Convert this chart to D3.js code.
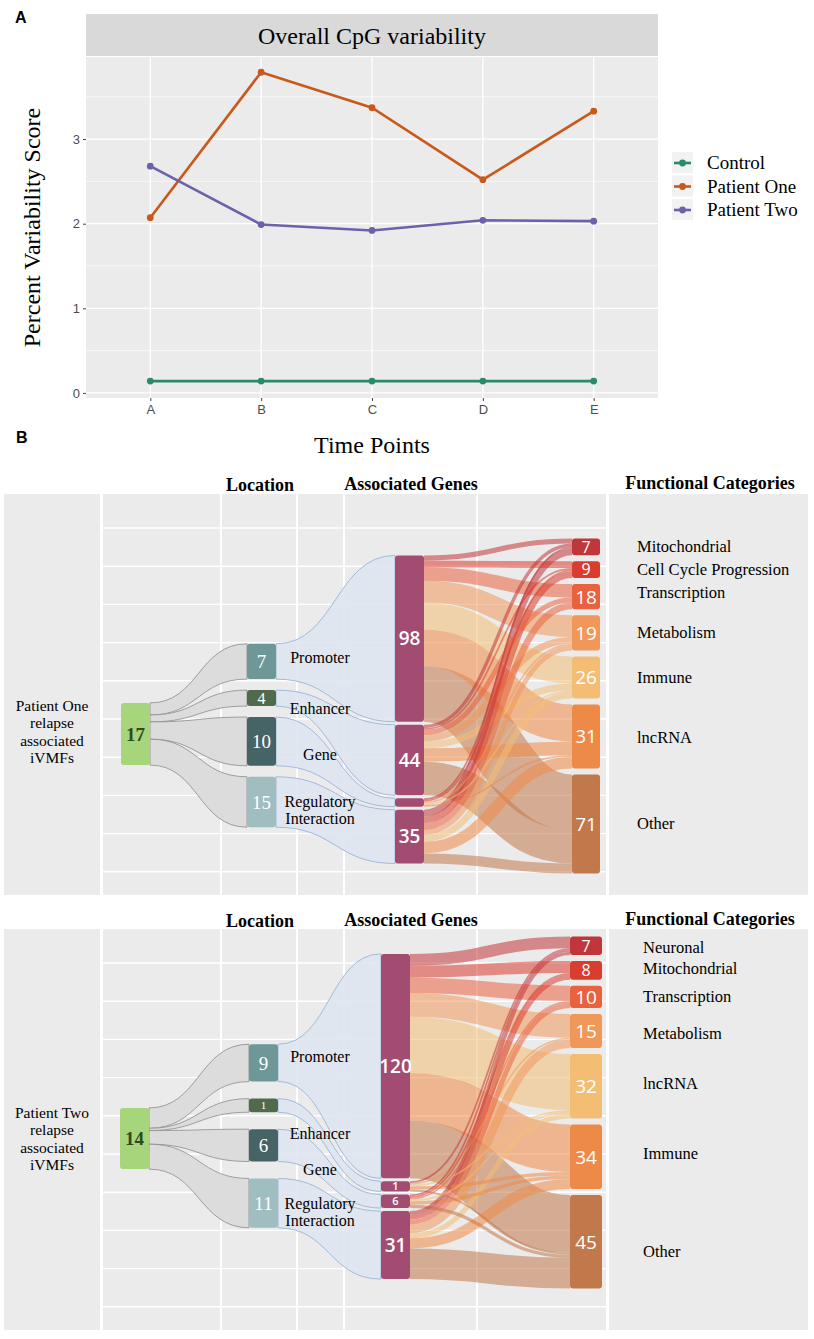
<!DOCTYPE html>
<html>
<head>
<meta charset="utf-8">
<script src="https://cdn.jsdelivr.net/npm/d3@7"></script>
<style>
  body { margin: 0; background: #fff; }
  svg { display: block; }
</style>
</head>
<body>
<svg id="fig" width="814" height="1339"></svg>
<script>
// ---------- panel A data ----------
var timePoints = ["A", "B", "C", "D", "E"];
var seriesNames = ["Control", "Patient One", "Patient Two"];
var controlScores = [0.14, 0.14, 0.14, 0.14, 0.14];
var patientOneScores = [2.07, 3.79, 3.37, 2.52, 3.33];
var patientTwoScores = [2.68, 1.99, 1.92, 2.04, 2.03];
var yTicks = [0, 1, 2, 3];

// ---------- panel B data ----------
var locationNames = ["Promoter", "Enhancer", "Gene", "Regulatory Interaction"];

// patient one
var p1Source = "17";
var p1SourceFlow = 37;
var p1LocCounts = [7, 4, 10, 15];
var p1LocFlow = [21, 9.5, 29, 30];
var p1GeneCounts = ["98", "44", "", "35"];
var p1FuncNames = ["Mitochondrial", "Cell Cycle Progression", "Transcription", "Metabolism", "Immune", "lncRNA", "Other"];
var p1FuncCounts = ["7", "9", "18", "19", "26", "31", "71"];
// rows = gene nodes, columns = functional categories
var p1Flows = [
    [3, 4, 8, 13, 16, 22, 33],
    [2, 1, 3, 4, 4, 8, 20],
    [1, 1, 0, 1, 1, 1, 0],
    [4, 4, 4, 3, 4, 7, 6]
];

// patient two
var p2Source = "14";
var p2SourceFlow = 36;
var p2LocCounts = [9, 1, 6, 11];
var p2LocFlow = [22, 8, 19, 29];
var p2GeneCounts = ["120", "1", "6", "31"];
var p2FuncNames = ["Neuronal", "Mitochondrial", "Transcription", "Metabolism", "lncRNA", "Immune", "Other"];
var p2FuncCounts = ["7", "8", "10", "15", "32", "34", "45"];
var p2Flows = [
    [7, 7, 9, 14, 33, 28, 34],
    [1, 0, 0, 1, 1, 2, 1],
    [1, 1, 1, 0, 1, 2, 2],
    [2, 3, 3, 5, 3, 6, 18]
];

(function () {
    var svg = d3.select("#fig");
    var serif = "'Liberation Serif', 'Times New Roman', serif";
    var sans = "'Liberation Sans', Arial, sans-serif";
    var nodeSans = "'Open Sans', 'Noto Sans', sans-serif";

    //////////////// panel A ////////////////
    var left = 86, right = 658, top = 57, bottom = 398;

    var x = d3.scalePoint().domain(timePoints).range([left, right]).padding(0.58);
    var y = d3.scaleLinear().domain([-0.06, 3.97]).range([bottom, top]);
    var color = d3.scaleOrdinal().domain(seriesNames).range(["#2b8a69", "#c9591b", "#6a63aa"]);

    svg.append("text").attr("x", 15).attr("y", 23)
        .style("font", "bold 16px " + sans).text("A");

    // strip + panel
    svg.append("rect").attr("x", left).attr("y", 14).attr("width", right - left).attr("height", 42).attr("fill", "#d9d9d9");
    svg.append("text").attr("x", (left + right) / 2).attr("y", 44).attr("text-anchor", "middle")
        .style("font", "24px " + serif).text("Overall CpG variability");
    svg.append("rect").attr("x", left).attr("y", top).attr("width", right - left).attr("height", bottom - top).attr("fill", "#ebebeb");

    var grid = svg.append("g");
    grid.selectAll(".minor").data([0.5, 1.5, 2.5, 3.5]).join("line")
        .attr("x1", left).attr("x2", right).attr("y1", d => y(d)).attr("y2", d => y(d))
        .attr("stroke", "#fff").attr("stroke-width", 0.6);
    grid.selectAll(".major").data(yTicks).join("line")
        .attr("x1", left).attr("x2", right).attr("y1", d => y(d)).attr("y2", d => y(d))
        .attr("stroke", "#fff").attr("stroke-width", 1.3);
    grid.selectAll(".vx").data(timePoints).join("line")
        .attr("y1", top).attr("y2", bottom).attr("x1", d => x(d)).attr("x2", d => x(d))
        .attr("stroke", "#fff").attr("stroke-width", 1.3);

    // axes
    var ya = svg.append("g").attr("transform", "translate(" + left + ",0)")
        .call(d3.axisLeft(y).tickValues(yTicks).tickFormat(d3.format("d")).tickSize(3).tickPadding(3));
    var xa = svg.append("g").attr("transform", "translate(0," + bottom + ")")
        .call(d3.axisBottom(x).tickSize(3).tickPadding(4));
    [ya, xa].forEach(function (a) {
        a.select(".domain").remove();
        a.selectAll("line").attr("stroke", "#444");
        a.selectAll("text").attr("fill", "#4d4d4d").style("font", "13px " + sans);
    });

    svg.append("text").attr("transform", "translate(40," + (top + bottom) / 2 + ") rotate(-90)")
        .attr("text-anchor", "middle").style("font", "24px " + serif).text("Percent Variability Score");
    svg.append("text").attr("x", (left + right) / 2).attr("y", 453).attr("text-anchor", "middle")
        .style("font", "24px " + serif).text("Time Points");

    // lines
    var series = [controlScores, patientOneScores, patientTwoScores];
    var line = d3.line().x((d, i) => x(timePoints[i])).y(d => y(d));
    series.forEach(function (vals, si) {
        svg.append("path").attr("d", line(vals)).attr("fill", "none")
            .attr("stroke", color(seriesNames[si])).attr("stroke-width", 2.6);
        svg.selectAll(null).data(vals).join("circle")
            .attr("cx", (d, i) => x(timePoints[i])).attr("cy", d => y(d)).attr("r", 3.4)
            .attr("fill", color(seriesNames[si]));
    });

    // legend
    var leg = svg.append("g").attr("transform", "translate(672,152)");
    seriesNames.forEach(function (name, i) {
        var g = leg.append("g").attr("transform", "translate(0," + i * 23.5 + ")");
        g.append("rect").attr("width", 21).attr("height", 21).attr("fill", "#f2f2f2");
        g.append("line").attr("x1", 2).attr("x2", 19).attr("y1", 11).attr("y2", 11)
            .attr("stroke", color(name)).attr("stroke-width", 2.6);
        g.append("circle").attr("cx", 10.5).attr("cy", 11).attr("r", 3.4).attr("fill", color(name));
        g.append("text").attr("x", 35).attr("y", 17).style("font", "19px " + serif).text(name);
    });

    //////////////// panel B ////////////////
    svg.append("text").attr("x", 16).attr("y", 443)
        .style("font", "bold 16px " + sans).text("B");

    var funcColors = ["#c1363b", "#d93d30", "#e9623f", "#f09859", "#f4bd74", "#ee8a47", "#c1784b"];
    var locColors = ["#6e9798", "#4f6b4c", "#466366", "#a0bdbf"];

    function ribbon(sx, sy0, sy1, tx, ty0, ty1) {
        var p = d3.path(), mx = (sx + tx) / 2;
        p.moveTo(sx, sy0);
        p.bezierCurveTo(mx, sy0, mx, ty0, tx, ty0);
        p.lineTo(tx, ty1);
        p.bezierCurveTo(mx, ty1, mx, sy1, sx, sy1);
        p.closePath();
        return p.toString();
    }

    function drawSankey(s) {
        var g = svg.append("g");
        var k = d3.scaleLinear().domain([0, 1]).range([0, s.pxPerUnit]);

        //stack nodes of one column around a centre line
        function stack(weights, center, gap) {
            var total = d3.sum(weights, k) + gap * (weights.length - 1);
            var y0 = center - total / 2;
            return weights.map(function (w) {
                var n = { y0: y0, y1: y0 + k(w) };
                y0 = n.y1 + gap;
                return n;
            });
        }

        // background
        g.append("rect").attr("x", 4).attr("y", s.bgTop).attr("width", 96).attr("height", s.bgBottom - s.bgTop).attr("fill", "#ebebeb");
        g.append("rect").attr("x", 103).attr("y", s.bgTop).attr("width", 503).attr("height", s.bgBottom - s.bgTop).attr("fill", "#ebebeb");
        g.append("rect").attr("x", 609).attr("y", s.bgTop).attr("width", 199).attr("height", s.bgBottom - s.bgTop).attr("fill", "#ebebeb");
        g.selectAll(".hl").data(d3.range(s.bgTop + 34, s.bgBottom - 5, 38.2)).join("line")
            .attr("x1", 103).attr("x2", 606).attr("y1", d => d).attr("y2", d => d)
            .attr("stroke", "#fff").attr("stroke-width", 1.4);
        g.selectAll(".vl").data([221, 297, 344, 477]).join("line")
            .attr("x1", d => d).attr("x2", d => d).attr("y1", s.bgTop).attr("y2", s.bgBottom)
            .attr("stroke", "#fff").attr("stroke-width", 2);

        // headers
        var hf = "bold 18px " + serif;
        g.append("text").attr("x", 260).attr("y", s.headY).attr("text-anchor", "middle").style("font", hf).text("Location");
        g.append("text").attr("x", 411).attr("y", s.headY - 1).attr("text-anchor", "middle").style("font", hf).text("Associated Genes");
        g.append("text").attr("x", 710).attr("y", s.headY - 2).attr("text-anchor", "middle").style("font", hf).text("Functional Categories");

        // left title
        g.selectAll(".pt").data(s.title).join("text")
            .attr("x", 52).attr("y", (d, i) => s.titleY + i * 17.3).attr("text-anchor", "middle")
            .style("font", "15.5px " + serif).text(d => d);

        // node layout
        var geneFlow = s.flows.map(r => d3.sum(r));
        var funcFlow = s.funcCounts.map((c, j) => d3.sum(s.flows, r => r[j]));
        var src = stack([s.sourceFlow], s.srcCenter, 0)[0];
        var locN = stack(s.locFlow, s.locCenter, s.locGap);
        var geneN = stack(geneFlow, s.geneCenter, s.geneGap);
        var funcN = stack(funcFlow, s.funcCenter, s.funcGap);
        var X = s.cols;

        // gene -> functional category links
        var links = [];
        s.flows.forEach(function (row, i) {
            row.forEach(function (v, j) { if (v > 0) links.push({ s: i, t: j, v: v }); });
        });
        var so = geneN.map(n => n.y0), to = funcN.map(n => n.y0);
        links.forEach(function (l) { l.ys = so[l.s] + k(l.v) / 2; so[l.s] += k(l.v); });
        links.forEach(function (l) { l.yt = to[l.t] + k(l.v) / 2; to[l.t] += k(l.v); });
        var link = d3.linkHorizontal().source(d => [X.gene + X.w, d.ys]).target(d => [X.func, d.yt]);
        g.append("g").selectAll("path").data(links.slice().sort((a, b) => b.v - a.v)).join("path")
            .attr("d", link).attr("fill", "none")
            .attr("stroke", d => funcColors[d.t]).attr("stroke-opacity", 0.55)
            .attr("stroke-width", d => Math.max(1, k(d.v)));

        // source -> location (fan out)
        var ks = (src.y1 - src.y0) / d3.sum(s.locCounts), sy = src.y0;
        locN.forEach(function (n, i) {
            var h = s.locCounts[i] * ks;
            g.append("path").attr("d", ribbon(X.src + X.w, sy, sy + h, X.loc, n.y0, n.y1))
                .attr("fill", "#dcdcdc").attr("stroke", "#8c8c8c").attr("stroke-width", 0.8);
            sy += h;
        });

        // location -> gene
        locN.forEach(function (n, i) {
            var t = geneN[i];
            g.append("path").attr("d", ribbon(X.loc + X.w, n.y0, n.y1, X.gene, t.y0, t.y1))
                .attr("fill", "#dfe5f0").attr("fill-opacity", 0.9).attr("stroke", "#a3badc").attr("stroke-width", 1);
        });

        // nodes
        function nodes(list, x, w, fill, labels, textFill, family, weight) {
            var ng = g.append("g");
            ng.selectAll("rect").data(list).join("rect")
                .attr("x", x).attr("y", d => d.y0).attr("width", w).attr("height", d => d.y1 - d.y0)
                .attr("rx", 3).attr("fill", (d, i) => typeof fill === "function" ? fill(i) : fill);
            ng.selectAll("text").data(list).join("text")
                .attr("x", x + w / 2).attr("y", d => (d.y0 + d.y1) / 2)
                .attr("dy", "0.36em").attr("text-anchor", "middle")
                .attr("fill", textFill)
                .style("font-family", family)
                .style("font-weight", weight)
                .style("font-size", function (d) {
                    var h = d.y1 - d.y0;
                    return (h < 15 ? 11 : h < 20 ? 16 : 19) + "px";
                })
                .text((d, i) => labels[i]);
        }
        nodes([src], X.src, X.w, "#a7d57b", [s.source], "#2e4a1e", serif, "bold");
        nodes(locN, X.loc, X.w, i => locColors[i], s.locCounts, "#fff", serif, "normal");
        nodes(geneN, X.gene, X.w, "#a24c72", s.geneCounts, "#fff", nodeSans, "600");
        nodes(funcN, X.func, X.fw, i => funcColors[i], s.funcCounts, "#fff", nodeSans, "normal");

        // location labels
        locationNames.forEach(function (name, i) {
            var c = (locN[i].y0 + locN[i].y1) / 2 + s.locLabelDy[i];
            var parts = name.split(" ");
            g.selectAll(null).data(parts).join("text")
                .attr("x", s.locLabelX).attr("y", (d, j) => c + 5 + (j - (parts.length - 1) / 2) * 17)
                .attr("text-anchor", "middle").style("font", "16px " + serif).text(d => d);
        });

        // functional labels
        g.selectAll(".fl").data(s.funcNames).join("text")
            .attr("x", s.funcLabelX).attr("y", (d, i) => (funcN[i].y0 + funcN[i].y1) / 2 + s.funcLabelDy[i] + 5)
            .style("font", "16.5px " + serif).text(d => d);
    }

    drawSankey({
        title: ["Patient One", "relapse", "associated", "iVMFs"], titleY: 711,
        source: p1Source, sourceFlow: p1SourceFlow, locCounts: p1LocCounts, locFlow: p1LocFlow,
        geneCounts: p1GeneCounts, funcNames: p1FuncNames, funcCounts: p1FuncCounts, flows: p1Flows,
        pxPerUnit: 1.68, bgTop: 494, bgBottom: 895, headY: 491,
        cols: { src: 121, loc: 247, gene: 395, func: 572, w: 29, fw: 28 },
        srcCenter: 734, locCenter: 735.5, geneCenter: 709.5, funcCenter: 706,
        locGap: 11, geneGap: 3, funcGap: 6,
        locLabelX: 320, locLabelDy: [-3, 11, 14, 9],
        funcLabelX: 637, funcLabelDy: [0, 0, -4, 0, 0, 2, 0]
    });

    drawSankey({
        title: ["Patient Two", "relapse", "associated", "iVMFs"], titleY: 1118,
        source: p2Source, sourceFlow: p2SourceFlow, locCounts: p2LocCounts, locFlow: p2LocFlow,
        geneCounts: p2GeneCounts, funcNames: p2FuncNames, funcCounts: p2FuncCounts, flows: p2Flows,
        pxPerUnit: 1.7, bgTop: 929, bgBottom: 1330, headY: 927,
        cols: { src: 120, loc: 249, gene: 381, func: 570, w: 29, fw: 32 },
        srcCenter: 1138.5, locCenter: 1136, geneCenter: 1116.5, funcCenter: 1112.5,
        locGap: 17, geneGap: 3, funcGap: 6,
        locLabelX: 320, locLabelDy: [-6, 29, 25, 9],
        funcLabelX: 643, funcLabelDy: [2, -1, 0, 3, -2, -3, 10]
    });
})();
</script>
</body>
</html>
